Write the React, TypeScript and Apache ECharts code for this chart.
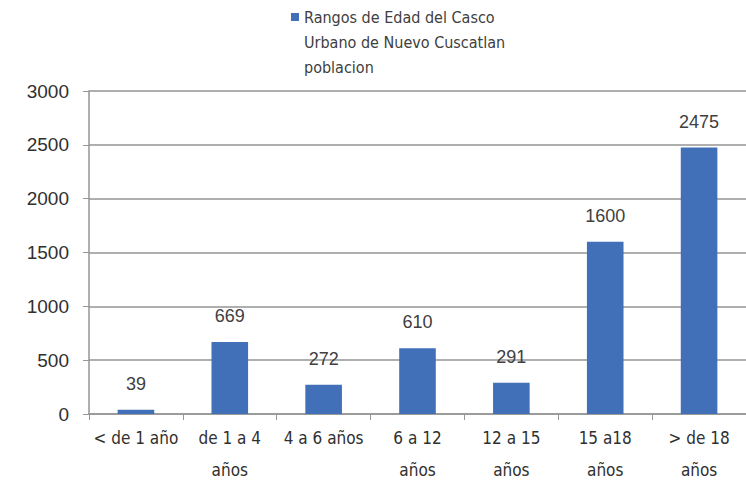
import React, { useEffect, useRef } from "react";
import * as echarts from "echarts";

const categories = [
  "< de 1 año",
  "de 1 a 4\naños",
  "4 a 6 años",
  "6 a 12\naños",
  "12 a 15\naños",
  "15 a18\naños",
  "> de 18\naños",
];
const values = [39, 669, 272, 610, 291, 1600, 2475];
const seriesName = "Rangos de Edad del Casco\nUrbano de Nuevo Cuscatlan\npoblacion";
const yMin = 0;
const yMax = 3000;
const yInterval = 500;

const BAR = "#4170B8";
const GRID = "#959595";
const NARROW = "'DejaVu Sans Condensed', 'Liberation Sans Narrow', 'Arial Narrow', sans-serif";
const REG = "'Liberation Sans', Arial, sans-serif";

export default function App() {
  const ref = useRef<HTMLDivElement>(null);
  useEffect(() => {
    if (!ref.current) return;
    const chart = echarts.init(ref.current, undefined, { renderer: "svg" });
    chart.setOption({
      animation: false,
      backgroundColor: "#ffffff",
      grid: { left: 89, right: 0, top: 91, bottom: 67, containLabel: false },
      graphic: [
        {
          type: "rect",
          left: 291,
          top: 13,
          shape: { width: 8, height: 8 },
          style: { fill: BAR },
        },
        {
          type: "text",
          left: 304,
          top: 5,
          style: {
            text: seriesName,
            font: `16px ${NARROW}`,
            fill: "#404040",
            lineHeight: 25,
          },
        },
      ],
      xAxis: {
        type: "category",
        data: categories,
        axisLine: { show: true, lineStyle: { color: GRID, width: 1.5 } },
        axisTick: { show: true, length: 6, lineStyle: { color: GRID } },
        axisLabel: {
          color: "#303030",
          fontFamily: NARROW,
          fontSize: 17,
          lineHeight: 32,
          margin: 8,
          interval: 0,
        },
      },
      yAxis: {
        type: "value",
        min: yMin,
        max: yMax,
        interval: yInterval,
        axisLine: { show: true, lineStyle: { color: GRID, width: 1.5 } },
        axisTick: { show: true, length: 6, lineStyle: { color: GRID } },
        splitLine: { show: true, lineStyle: { color: GRID, width: 1.5 } },
        axisLabel: {
          color: "#303030",
          fontFamily: REG,
          fontSize: 19,
          margin: 20,
          formatter: (v: number) => String(v),
        },
      },
      series: [
        {
          name: seriesName,
          type: "bar",
          data: values,
          barWidth: "39%",
          itemStyle: { color: BAR },
          label: {
            show: true,
            position: "top",
            distance: 17,
            color: "#404040",
            fontFamily: REG,
            fontSize: 18,
          },
        },
      ],
    });
    return () => chart.dispose();
  }, []);
  return <div ref={ref} style={{ width: 746, height: 486, position: "absolute", left: 0, top: 0 }} />;
}
